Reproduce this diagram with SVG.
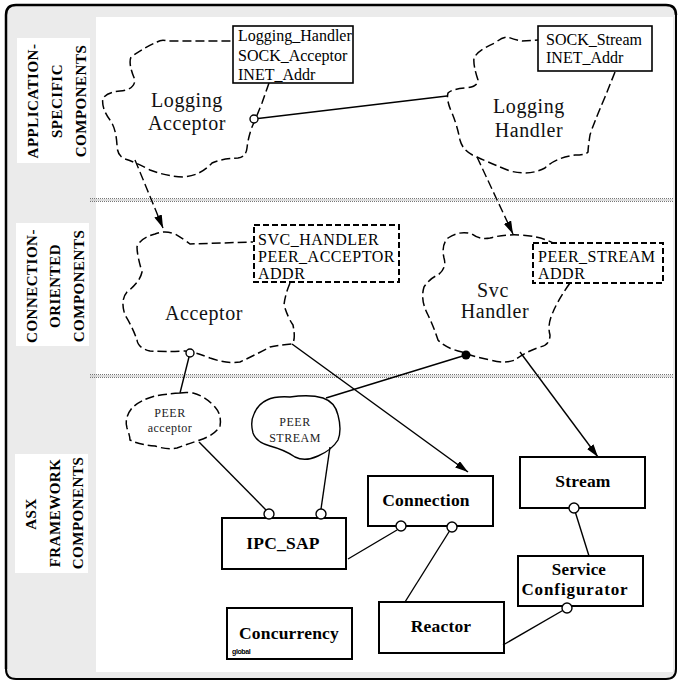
<svg xmlns="http://www.w3.org/2000/svg" width="679" height="681" viewBox="0 0 679 681">
<style>
.lbl{font-family:"Liberation Serif","Times New Roman",serif;font-weight:bold;font-size:15px;letter-spacing:0.5px;fill:#000}
.cls{font-family:"Liberation Serif","Times New Roman",serif;font-size:16px;fill:#000}
.ttl{font-family:"Liberation Serif","Times New Roman",serif;font-size:20px;letter-spacing:0.6px;fill:#111;text-anchor:middle}
.sm{font-family:"Liberation Serif","Times New Roman",serif;font-size:12px;letter-spacing:0.5px;fill:#222;text-anchor:middle}
.bx{font-family:"Liberation Serif","Times New Roman",serif;font-weight:bold;font-size:17.5px;letter-spacing:0.2px;fill:#000;text-anchor:middle}
.cloud{fill:none;stroke:#000;stroke-width:1.5;stroke-dasharray:9 4}
.dbox{fill:#fff;stroke:#000;stroke-width:2;stroke-dasharray:6 3}
.sbox{fill:#fff;stroke:#000;stroke-width:1.6}
.fbox{fill:#fff;stroke:#000;stroke-width:2}
.ln{fill:none;stroke:#000;stroke-width:1.4}
.dln{fill:none;stroke:#000;stroke-width:1.4;stroke-dasharray:9 4}
.oc{fill:#fff;stroke:#000;stroke-width:1.4}
.sep1{stroke:#777;stroke-width:1;stroke-dasharray:1 1}
.sep2{stroke:#bbb;stroke-width:1}
</style>
<defs>
<marker id="arr" viewBox="0 0 13 8" refX="13" refY="4" markerWidth="13" markerHeight="8" orient="auto" markerUnits="userSpaceOnUse"><path d="M0,0 L13,4 L0,8 Z" fill="#000"/></marker>
</defs>

<g id="frame">
<path d="M16,5 L666,5 Q676,5 676,15 L676,669 Q676,679 666,679 L16,679 Q6,679 6,669 L6,15 Q6,5 16,5 Z" fill="#ebebeb" stroke="none"/>
<path d="M6,669 L6,15 Q6,5 16,5 L666,5 Q676,5 676,15" fill="none" stroke="#000" stroke-width="2.5"/>
<path d="M676,15 L676,669 Q676,679 666,679 L16,679 Q6,679 6,669" fill="none" stroke="#000" stroke-width="2"/>
<rect x="96" y="17" width="577" height="655" fill="#fff"/>
</g>

<g id="separators">
<line class="sep1" x1="90" y1="198.5" x2="673" y2="198.5"/>
<line class="sep2" x1="90" y1="200" x2="673" y2="200"/>
<line class="sep1" x1="90" y1="201.5" x2="673" y2="201.5"/>
<line class="sep1" x1="90" y1="374.5" x2="673" y2="374.5"/>
<line class="sep2" x1="90" y1="376" x2="673" y2="376"/>
<line class="sep1" x1="90" y1="377.5" x2="673" y2="377.5"/>
</g>

<g id="label-app">
<rect x="17" y="38" width="73" height="125" fill="#fff"/>
<text class="lbl" text-anchor="middle" transform="translate(38,101) rotate(-90)">APPLICATION-</text>
<text class="lbl" text-anchor="middle" transform="translate(62,101) rotate(-90)">SPECIFIC</text>
<text class="lbl" text-anchor="middle" transform="translate(86,101) rotate(-90)">COMPONENTS</text>
</g>
<g id="label-conn">
<rect x="16" y="223" width="73" height="123" fill="#fff"/>
<text class="lbl" text-anchor="middle" transform="translate(37,286) rotate(-90)">CONNECTION-</text>
<text class="lbl" text-anchor="middle" transform="translate(60,286) rotate(-90)">ORIENTED</text>
<text class="lbl" text-anchor="middle" transform="translate(84,286) rotate(-90)">COMPONENTS</text>
</g>
<g id="label-asx">
<rect x="15" y="454" width="73" height="119" fill="#fff"/>
<text class="lbl" text-anchor="middle" transform="translate(36,514) rotate(-90)">ASX</text>
<text class="lbl" text-anchor="middle" transform="translate(60,513) rotate(-90)">FRAMEWORK</text>
<text class="lbl" text-anchor="middle" transform="translate(83,513) rotate(-90)">COMPONENTS</text>
</g>

<g id="logging-acceptor">
<path class="cloud" d="M269,83 L262,103 Q256,118 252,127 Q248,138 247,148 Q246,157 238,158 Q220,159 212,163 Q200,176 183,177 Q165,176 150,170 Q135,162 125,159 Q117,156 117,145 Q116,128 110,120 Q101,108 103,98 Q108,92 120,91 Q134,90 135,80 Q128,64 131,57 Q145,47 157,42 Q162,39 167,41 L233,41"/>
<rect class="sbox" x="233" y="26" width="120" height="57"/>
<text class="cls" x="238" y="41">Logging_Handler</text>
<text class="cls" x="238" y="61">SOCK_Acceptor</text>
<text class="cls" x="238" y="80">INET_Addr</text>
<text class="ttl" x="187" y="107">Logging</text>
<text class="ttl" x="187" y="130">Acceptor</text>
</g>

<g id="logging-handler">
<path class="cloud" d="M615,72 L605,97 Q593,125 590,135 Q588,148 588,152 Q586,155 575,155 Q555,158 545,168 Q530,176 510,171 Q490,163 477,157 Q463,152 460,140 Q457,125 452,113 Q446,100 448,93 Q452,89 465,88 Q478,87 478,80 Q473,65 474,58 Q478,50 495,43 Q502,37 508,37 Q515,40 522,41 L538,40"/>
<rect class="sbox" x="538" y="26" width="114" height="45"/>
<text class="cls" x="546" y="45">SOCK_Stream</text>
<text class="cls" x="546" y="63">INET_Addr</text>
<text class="ttl" x="529" y="113">Logging</text>
<text class="ttl" x="529" y="137">Handler</text>
</g>

<g id="acceptor">
<path class="cloud" d="M290,283 Q285,295 284,305 Q288,318 293,325 Q296,340 292,344 Q278,345 270,347 Q255,355 240,362 Q227,364 210,358 Q195,352 185,351 Q165,352 150,351 Q138,348 137,340 Q133,328 125,315 Q120,300 127,292 Q140,282 142,272 Q137,255 137,247 Q140,238 155,234 Q165,230 175,234 Q185,240 190,244 L253,242"/>
<rect class="dbox" x="254" y="225" width="145" height="57"/>
<text class="cls" x="258" y="245" style="letter-spacing:0.5px">SVC_HANDLER</text>
<text class="cls" x="258" y="262" style="letter-spacing:0.5px">PEER_ACCEPTOR</text>
<text class="cls" x="258" y="279" style="letter-spacing:0.5px">ADDR</text>
<text class="ttl" x="204" y="320">Acceptor</text>
</g>

<g id="svc-handler">
<path class="cloud" d="M570,283 Q558,300 553,312 Q547,325 550,335 Q550,345 540,347 Q525,352 515,360 Q505,364 490,360 Q475,357 462,352 Q445,348 438,340 Q433,325 428,315 Q420,300 424,287 Q430,278 438,275 Q447,268 444,258 Q441,245 448,238 Q460,230 472,234 Q480,240 490,238 Q505,234 520,235 Q540,236 553,243"/>
<rect class="dbox" x="533" y="243" width="130" height="40"/>
<text class="cls" x="538" y="262" style="letter-spacing:0.5px">PEER_STREAM</text>
<text class="cls" x="538" y="279" style="letter-spacing:0.5px">ADDR</text>
<text class="ttl" x="493" y="297">Svc</text>
<text class="ttl" x="495" y="318">Handler</text>
</g>

<g id="peer-acceptor">
<path class="cloud" d="M180,393 Q165,394 155,396 Q140,400 132,408 Q124,418 127,428 Q130,436 130,440 Q140,445 155,446 Q167,450 177,448 Q188,444 200,440 Q215,435 220,426 Q222,415 215,407 Q205,396 193,393 Q186,392 180,393 Z"/>
<text class="sm" x="170" y="417">PEER</text>
<text class="sm" x="170" y="432">acceptor</text>
</g>

<g id="peer-stream">
<path class="ln" d="M267,400 Q275,396 290,397 Q310,394 323,398 Q335,402 338,415 Q342,430 338,440 Q332,450 318,456 Q305,462 295,457 Q285,450 270,446 Q256,442 253,433 Q250,422 254,414 Q258,404 267,400 Z"/>
<text class="sm" x="295" y="426">PEER</text>
<text class="sm" x="295" y="442">STREAM</text>
</g>

<g id="ipc-sap">
<rect class="fbox" x="222" y="518" width="124" height="51"/>
<text class="bx" x="283" y="549">IPC_SAP</text>
</g>
<g id="concurrency">
<rect class="fbox" x="227" y="608" width="125" height="51"/>
<text class="bx" x="289" y="639">Concurrency</text>
<text x="232" y="654" style="font-family:'Liberation Sans',Arial,sans-serif;font-weight:bold;font-size:7px;letter-spacing:-0.4px;fill:#000">global</text>
</g>
<g id="connection">
<rect class="fbox" x="368" y="476" width="125" height="50"/>
<text class="bx" x="426" y="506">Connection</text>
</g>
<g id="stream">
<rect class="fbox" x="520" y="457" width="125" height="51"/>
<text class="bx" x="583" y="487">Stream</text>
</g>
<g id="service-configurator">
<rect class="fbox" x="518" y="556" width="125" height="50"/>
<text class="bx" x="579" y="575" style="font-size:17px">Service</text>
<text class="bx" x="575" y="595" style="font-size:17px;letter-spacing:0.9px">Configurator</text>
</g>
<g id="reactor">
<rect class="fbox" x="379" y="602" width="125" height="51"/>
<text class="bx" x="441" y="632">Reactor</text>
</g>

<g id="connectors">
<line class="ln" x1="258" y1="118.5" x2="447" y2="96"/>
<line class="dln" x1="135" y1="160" x2="163" y2="228" marker-end="url(#arr)"/>
<line class="dln" x1="477" y1="157" x2="513" y2="234" marker-end="url(#arr)"/>
<line class="ln" x1="292" y1="344" x2="468" y2="472" marker-end="url(#arr)"/>
<line class="ln" x1="520" y1="352" x2="598" y2="457" marker-end="url(#arr)"/>
<line class="ln" x1="466" y1="355" x2="326" y2="398"/>
<line class="ln" x1="189" y1="357" x2="180" y2="393"/>
<line class="ln" x1="199" y1="442" x2="266" y2="510"/>
<line class="ln" x1="330" y1="447" x2="321" y2="509"/>
<line class="ln" x1="348" y1="559" x2="397" y2="530"/>
<line class="ln" x1="452" y1="527" x2="405" y2="602"/>
<line class="ln" x1="574" y1="508" x2="589" y2="556"/>
<line class="ln" x1="567" y1="608" x2="503" y2="645"/>
<circle class="oc" cx="254" cy="119" r="4"/>
<circle class="oc" cx="190" cy="353" r="4"/>
<circle cx="466" cy="355" r="4.5" fill="#000"/>
<circle class="oc" cx="269" cy="514" r="5"/>
<circle class="oc" cx="321" cy="514" r="5"/>
<circle class="oc" cx="401" cy="526" r="5"/>
<circle class="oc" cx="452" cy="527" r="5"/>
<circle class="oc" cx="574" cy="508" r="5"/>
<circle class="oc" cx="567" cy="608" r="5"/>
</g>
</svg>
